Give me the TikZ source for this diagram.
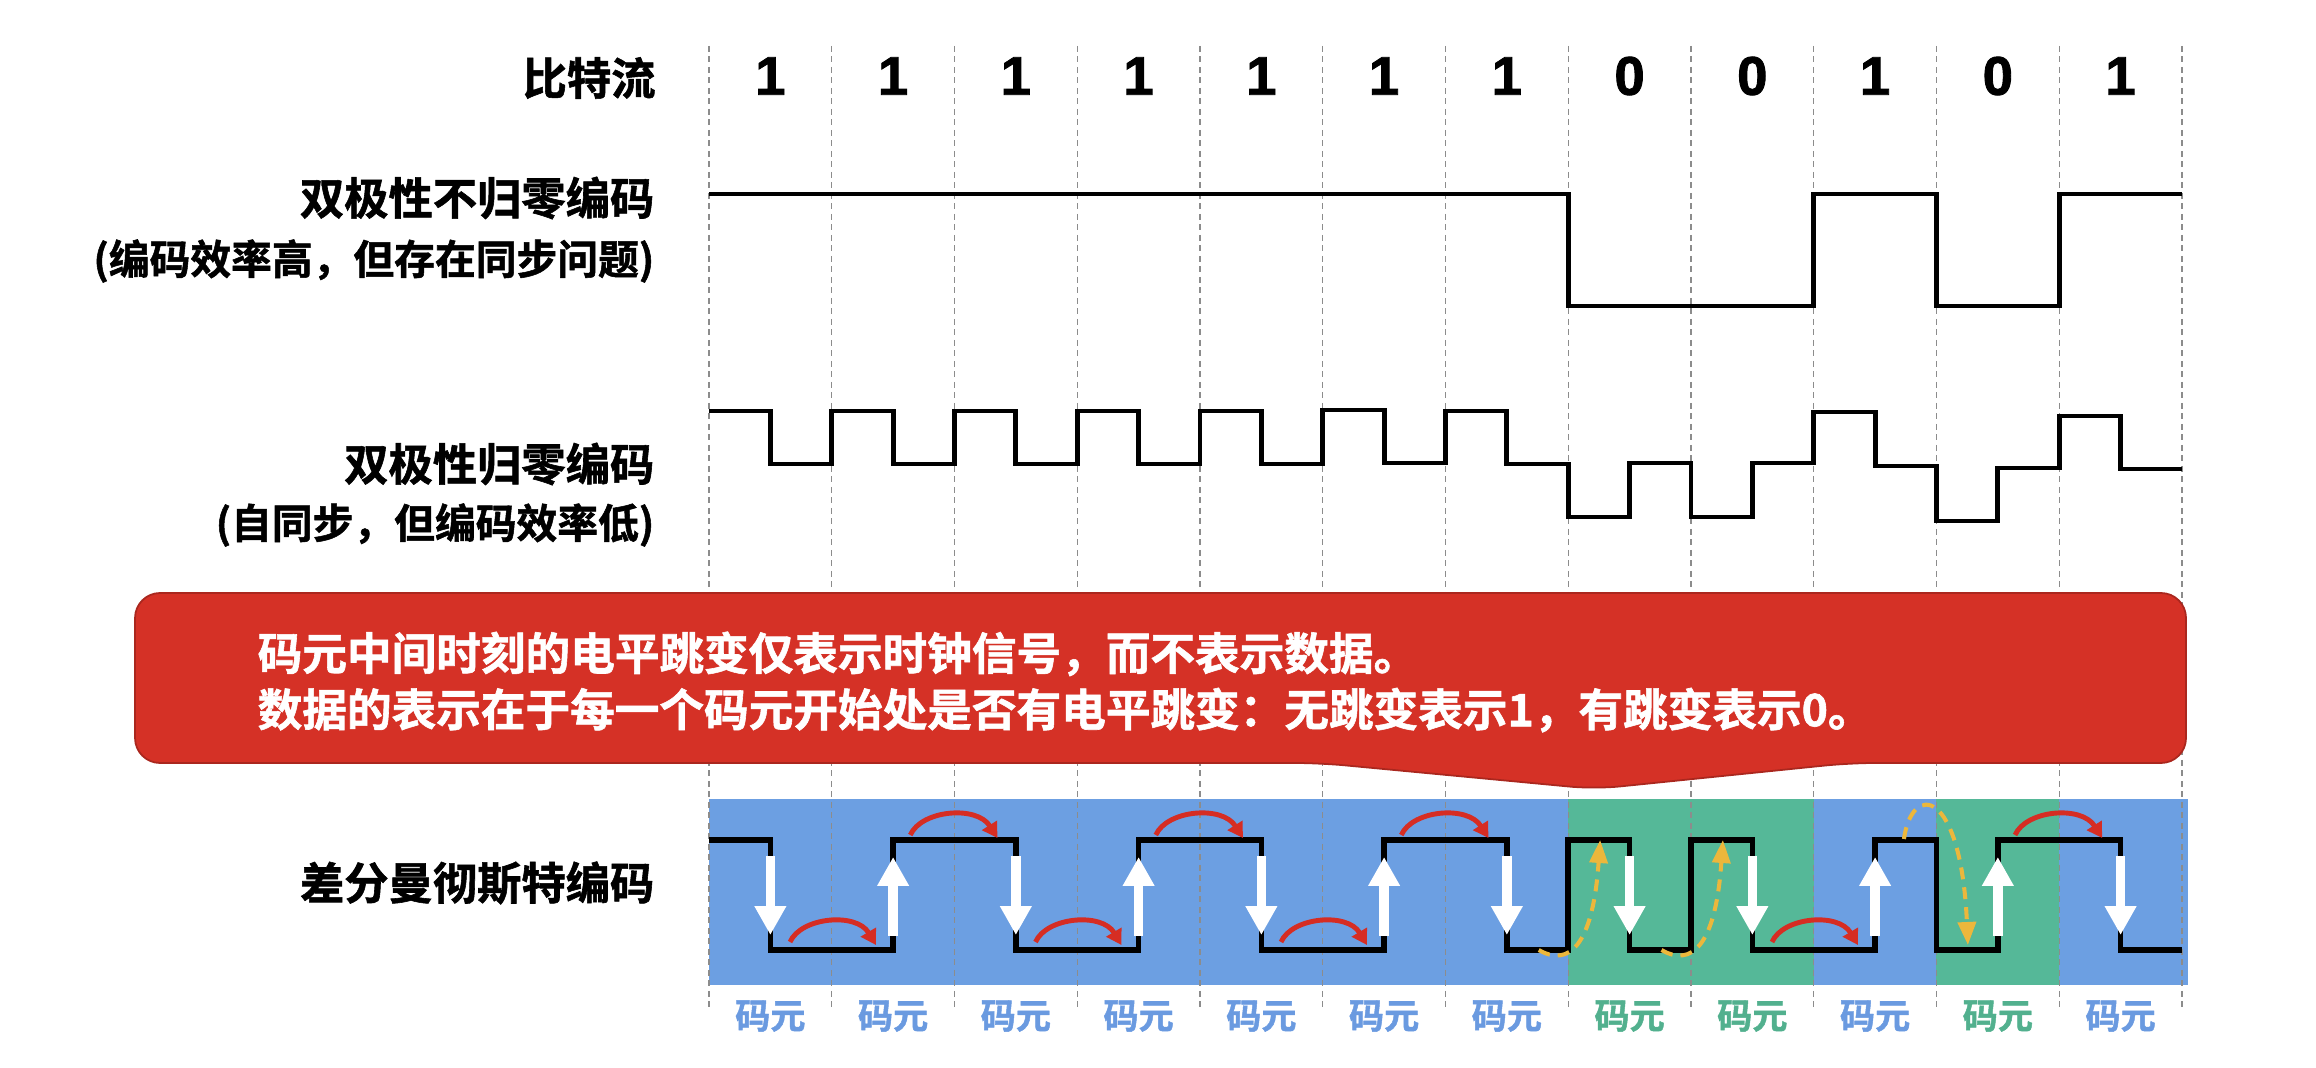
\documentclass[tikz,border=0pt]{standalone}
\usepackage{fontspec}
\setmainfont{Liberation Sans}[BoldFeatures={FakeBold=1.6}]
\newfontfamily\cjkbold{Noto Sans CJK SC Bold}[FakeBold=1.3]
\usetikzlibrary{arrows.meta}

\definecolor{bandblue}{RGB}{108,159,226}
\definecolor{bandgreen}{RGB}{85,184,152}
\definecolor{calloutred}{RGB}{213,49,38}
\definecolor{arcred}{RGB}{214,45,35}
\definecolor{tipyellow}{RGB}{236,183,60}
\definecolor{labelblue}{RGB}{106,154,224}
\definecolor{labelgreen}{RGB}{82,176,142}

\begin{document}
\begin{tikzpicture}[
    x=1.2275cm, y=1cm,
    cellline/.style={draw=black!45, line width=0.4pt, dash pattern=on 0.06cm off 0.045cm},
    wave/.style={draw=black, line width=1.4pt, line join=miter},
    bitnum/.style={font=\fontsize{15.5pt}{18pt}\selectfont\bfseries, inner sep=0},
    rowname/.style={font=\cjkbold\fontsize{12.6pt}{15pt}\selectfont, anchor=east, inner sep=0},
    rownote/.style={font=\cjkbold\fontsize{11.6pt}{14pt}\selectfont, anchor=east, inner sep=0},
    symlbl/.style={font=\cjkbold\fontsize{10pt}{12pt}\selectfont, inner sep=0},
    whitearr/.style={white, line width=2.7pt, -{Triangle[width=0.3cm,length=0.29cm]}},
    redarc/.style={arcred, line width=1.4pt, -{Triangle[width=0.17cm,length=0.15cm]}},
    yelarc/.style={tipyellow, line width=1.15pt, dash pattern=on 0.12cm off 0.08cm, -{Triangle[width=0.18cm,length=0.23cm]}}
]
\useasboundingbox (-5.776,0) rectangle (13.092,10.67);

% Band behind the differential Manchester row
\fill[bandblue] (0,0.82) rectangle (12.05,2.68);
\fill[bandgreen] (7,0.82) rectangle (9,2.68);
\fill[bandgreen] (10,0.82) rectangle (11,2.68);

% Cell boundaries
\draw[cellline] (0,10.21) -- (0,0.60);
\draw[cellline] (1,10.21) -- (1,0.60);
\draw[cellline] (2,10.21) -- (2,0.60);
\draw[cellline] (3,10.21) -- (3,0.60);
\draw[cellline] (4,10.21) -- (4,0.60);
\draw[cellline] (5,10.21) -- (5,0.60);
\draw[cellline] (6,10.21) -- (6,0.60);
\draw[cellline] (7,10.21) -- (7,0.60);
\draw[cellline] (8,10.21) -- (8,0.60);
\draw[cellline] (9,10.21) -- (9,0.60);
\draw[cellline] (10,10.21) -- (10,0.60);
\draw[cellline] (11,10.21) -- (11,0.60);
\draw[cellline] (12,10.21) -- (12,0.60);

% Row 1: bit stream
\node[rowname] (streamlbl) at (-0.43,9.89) {比特流};
\begin{scope}[shift={(0,9.91)}]
    \node[bitnum] (b1) at (0.5,0) {1};
    \node[bitnum] (b2) at (1.5,0) {1};
    \node[bitnum] (b3) at (2.5,0) {1};
    \node[bitnum] (b4) at (3.5,0) {1};
    \node[bitnum] (b5) at (4.5,0) {1};
    \node[bitnum] (b6) at (5.5,0) {1};
    \node[bitnum] (b7) at (6.5,0) {1};
    \node[bitnum] (b8) at (7.5,0) {0};
    \node[bitnum] (b9) at (8.5,0) {0};
    \node[bitnum] (b10) at (9.5,0) {1};
    \node[bitnum] (b11) at (10.5,0) {0};
    \node[bitnum] (b12) at (11.5,0) {1};
\end{scope}

% Row 2: bipolar NRZ
\node[rowname] (nrzlbl) at (-0.44,8.69) {双极性不归零编码};
\node[rownote] (nrznote) at (-0.44,8.06) {(编码效率高，但存在同步问题)};
\draw[wave] (0,8.73) -- (7,8.73) -- (7,7.61) -- (9,7.61) -- (9,8.73) -- (10,8.73)
    -- (10,7.61) -- (11,7.61) -- (11,8.73) -- (12,8.73);

% Row 3: bipolar RZ
\node[rowname] (rzlbl) at (-0.44,6.03) {双极性归零编码};
\node[rownote] (rznote) at (-0.44,5.42) {(自同步，但编码效率低)};
\draw[wave] (0,6.56) -- (0.5,6.56) -- (0.5,6.03) -- (1,6.03) -- (1,6.56) -- (1.5,6.56)
    -- (1.5,6.03) -- (2,6.03) -- (2,6.56) -- (2.5,6.56) -- (2.5,6.03) -- (3,6.03)
    -- (3,6.56) -- (3.5,6.56) -- (3.5,6.03) -- (4,6.03) -- (4,6.56) -- (4.5,6.56)
    -- (4.5,6.03) -- (5,6.03) -- (5,6.57) -- (5.5,6.57) -- (5.5,6.04) -- (6,6.04)
    -- (6,6.56) -- (6.5,6.56) -- (6.5,6.03) -- (7,6.03) -- (7,5.50) -- (7.5,5.50)
    -- (7.5,6.04) -- (8,6.04) -- (8,5.50) -- (8.5,5.50) -- (8.5,6.04) -- (9,6.04)
    -- (9,6.55) -- (9.5,6.55) -- (9.5,6.01) -- (10,6.01) -- (10,5.46) -- (10.5,5.46)
    -- (10.5,5.99) -- (11,5.99) -- (11,6.51) -- (11.5,6.51) -- (11.5,5.98) -- (12,5.98);

% Callout
\filldraw[fill=calloutred, draw=calloutred!80!black, line width=0.5pt, rounded corners=0.25cm]
    (-4.676,4.74) -- (12.033,4.74) -- (12.033,3.04) -- (9.295,3.04) -- (7.218,2.78)
    -- (4.978,3.04) -- (-4.676,3.04) -- cycle;
\node[font=\cjkbold\fontsize{12.7pt}{16pt}\selectfont, text=white, anchor=west, align=left, inner sep=0]
    (note) at (-3.682,3.85) {码元中间时刻的电平跳变仅表示时钟信号，而不表示数据。\\
    数据的表示在于每一个码元开始处是否有电平跳变：无跳变表示1，有跳变表示0。};

% Row 4: differential Manchester
\node[rowname] (dmlbl) at (-0.44,1.84) {差分曼彻斯特编码};
\draw[wave, line width=1.6pt] (0,2.27) -- (0.5,2.27) -- (0.5,1.17) -- (1.5,1.17) -- (1.5,2.27)
    -- (2.5,2.27) -- (2.5,1.17) -- (3.5,1.17) -- (3.5,2.27) -- (4.5,2.27) -- (4.5,1.17)
    -- (5.5,1.17) -- (5.5,2.27) -- (6.5,2.27) -- (6.5,1.17) -- (7,1.17) -- (7,2.27)
    -- (7.5,2.27) -- (7.5,1.17) -- (8,1.17) -- (8,2.27) -- (8.5,2.27) -- (8.5,1.17)
    -- (9.5,1.17) -- (9.5,2.27) -- (10,2.27) -- (10,1.17) -- (10.5,1.17) -- (10.5,2.27)
    -- (11.5,2.27) -- (11.5,1.17) -- (12,1.17);

% mid-cell transitions
\draw[whitearr] (0.5,2.11) -- (0.5,1.32);
\draw[whitearr] (1.5,1.31) -- (1.5,2.10);
\draw[whitearr] (2.5,2.11) -- (2.5,1.32);
\draw[whitearr] (3.5,1.31) -- (3.5,2.10);
\draw[whitearr] (4.5,2.11) -- (4.5,1.32);
\draw[whitearr] (5.5,1.31) -- (5.5,2.10);
\draw[whitearr] (6.5,2.11) -- (6.5,1.32);
\draw[whitearr] (7.5,2.11) -- (7.5,1.32);
\draw[whitearr] (8.5,2.11) -- (8.5,1.32);
\draw[whitearr] (9.5,1.31) -- (9.5,2.10);
\draw[whitearr] (10.5,1.31) -- (10.5,2.10);
\draw[whitearr] (11.5,2.11) -- (11.5,1.32);

% no jump at cell start (1)
\draw[redarc] (0.66,1.25) .. controls (0.75,1.5) and (1.2,1.55) .. (1.36,1.22);
\draw[redarc] (1.64,2.32) .. controls (1.73,2.57) and (2.18,2.62) .. (2.35,2.29);
\draw[redarc] (2.66,1.25) .. controls (2.75,1.5) and (3.2,1.55) .. (3.36,1.22);
\draw[redarc] (3.64,2.32) .. controls (3.73,2.57) and (4.18,2.62) .. (4.35,2.29);
\draw[redarc] (4.66,1.25) .. controls (4.75,1.5) and (5.2,1.55) .. (5.36,1.22);
\draw[redarc] (5.64,2.32) .. controls (5.73,2.57) and (6.18,2.62) .. (6.35,2.29);
\draw[redarc] (8.66,1.25) .. controls (8.75,1.5) and (9.2,1.55) .. (9.36,1.22);
\draw[redarc] (10.64,2.32) .. controls (10.73,2.57) and (11.18,2.62) .. (11.35,2.29);

% jump at cell start (0)
\draw[yelarc] (6.76,1.17) .. controls (7.0,1.0) and (7.2,1.2) .. (7.26,2.27);
\draw[yelarc] (7.76,1.17) .. controls (8.0,1.0) and (8.2,1.2) .. (8.26,2.27);
\draw[yelarc] (9.735,2.28) .. controls (9.8,2.85) and (10.2,2.8) .. (10.256,1.22);

% cell labels
\begin{scope}[shift={(0,0.51)}]
    \node[symlbl, text=labelblue] (s1) at (0.5,0) {码元};
    \node[symlbl, text=labelblue] (s2) at (1.5,0) {码元};
    \node[symlbl, text=labelblue] (s3) at (2.5,0) {码元};
    \node[symlbl, text=labelblue] (s4) at (3.5,0) {码元};
    \node[symlbl, text=labelblue] (s5) at (4.5,0) {码元};
    \node[symlbl, text=labelblue] (s6) at (5.5,0) {码元};
    \node[symlbl, text=labelblue] (s7) at (6.5,0) {码元};
    \node[symlbl, text=labelgreen] (s8) at (7.5,0) {码元};
    \node[symlbl, text=labelgreen] (s9) at (8.5,0) {码元};
    \node[symlbl, text=labelblue] (s10) at (9.5,0) {码元};
    \node[symlbl, text=labelgreen] (s11) at (10.5,0) {码元};
    \node[symlbl, text=labelblue] (s12) at (11.5,0) {码元};
\end{scope}

\end{tikzpicture}
\end{document}
